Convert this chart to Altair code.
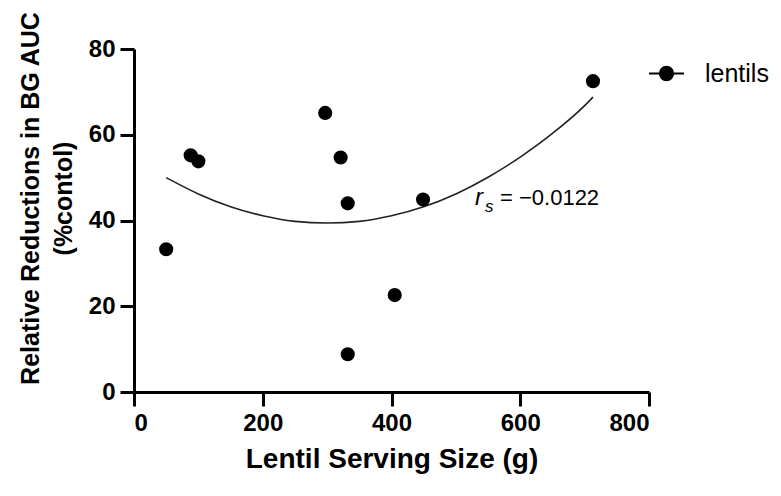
import altair as alt
import pandas as pd

# ---- data ----
serving_g = [50, 88, 100, 297, 321, 332, 332, 405, 449, 713]
reduction_pct = [33.3, 55.2, 53.8, 65.1, 54.7, 44.0, 8.8, 22.6, 44.9, 72.5]
series_name = ["lentils"] * len(serving_g)

fit_x = [50, 100, 150, 200, 250, 300, 350, 400, 450, 500, 550, 600, 650, 700, 713]
fit_y = [50.0, 46.2, 43.2, 41.1, 39.8, 39.4, 39.8, 41.1, 43.2, 46.2, 50.1, 54.8, 60.3, 66.8, 68.8]

x_ticks = [0, 200, 400, 600, 800]
y_ticks = [0, 20, 40, 60, 80]

annot_r = ["r"]
annot_s = ["s"]
annot_val = ["= \u22120.0122"]

x_title = "Lentil Serving Size (g)"
y_title = ["Relative Reductions in BG AUC", "(%contol)"]

FONT = "Liberation Sans"

pts = pd.DataFrame({"serving": serving_g, "reduction": reduction_pct, "series": series_name})
fit = pd.DataFrame({"serving": fit_x, "reduction": fit_y})

common_axis = dict(
    grid=False, domainColor="black", domainWidth=3, tickColor="black", tickWidth=3,
    tickSize=14, labelFont=FONT, labelFontWeight="bold", labelFontSize=24,
    labelColor="black", titleFont=FONT, titleFontWeight="bold", titleColor="black",
)

xenc = alt.X("serving:Q", scale=alt.Scale(domain=[0, 800], nice=False),
             axis=alt.Axis(values=x_ticks, title=x_title, titleFontSize=28,
                           labelPadding=5, titlePadding=10, **common_axis))
yenc = alt.Y("reduction:Q", scale=alt.Scale(domain=[0, 80], nice=False),
             axis=alt.Axis(values=y_ticks, title=y_title, titleFontSize=25,
                           titleLineHeight=33, titleY=149, labelPadding=5,
                           titlePadding=12, **common_axis))

legend_symbol = "M-1,0H1M0.38,0A0.38,0.38,0,1,1,-0.38,0A0.38,0.38,0,1,1,0.38,0Z"

points = alt.Chart(pts).mark_circle(size=200, opacity=1).encode(
    x=xenc, y=yenc,
    color=alt.Color("series:N", scale=alt.Scale(range=["black"]),
                    legend=alt.Legend(title=None, orient="none", legendX=514, legendY=6,
                                      symbolType=legend_symbol, symbolSize=1225,
                                      symbolStrokeWidth=2, symbolStrokeColor="black",
                                      symbolFillColor="black", symbolOpacity=1,
                                      labelFont=FONT, labelFontSize=25, labelColor="black",
                                      labelOffset=20, padding=0)),
)

curve = alt.Chart(fit).mark_line(color="#222222", strokeWidth=1.6, interpolate="monotone").encode(
    x="serving:Q", y="reduction:Q"
)

t_r = alt.Chart(pd.DataFrame({"t": annot_r})).mark_text(
    font=FONT, fontSize=24, fontStyle="italic", align="left", baseline="alphabetic", color="black"
).encode(text="t:N", x=alt.value(341), y=alt.value(156))

t_s = alt.Chart(pd.DataFrame({"t": annot_s})).mark_text(
    font=FONT, fontSize=17, fontStyle="italic", align="left", baseline="alphabetic", color="black"
).encode(text="t:N", x=alt.value(351), y=alt.value(163))

t_v = alt.Chart(pd.DataFrame({"t": annot_val})).mark_text(
    font=FONT, fontSize=22, align="left", baseline="alphabetic", color="black"
).encode(text="t:N", x=alt.value(366), y=alt.value(156))

chart = alt.layer(curve, points, t_r, t_s, t_v).properties(
    width=515, height=343,
    padding={"left": 126, "top": 41, "right": 124, "bottom": 90},
    autosize=alt.AutoSizeParams(type="none"),
    background="white",
).configure_view(stroke=None)

chart.save("out.html", embed_options={"renderer": "svg", "actions": False})
